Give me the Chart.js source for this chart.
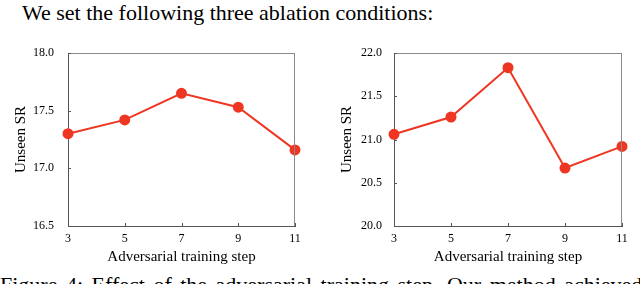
<!DOCTYPE html>
<html>
<head>
<meta charset="utf-8">
<script src="https://cdn.jsdelivr.net/npm/chart.js@4/dist/chart.umd.min.js"></script>
<style>
  html, body { margin: 0; padding: 0; background: #fff; }
  body { width: 640px; height: 284px; position: relative; overflow: hidden; font-family: "Liberation Serif", "DejaVu Serif", serif; color: #000; }
  .txt { position: absolute; white-space: nowrap; font-size: 22px; line-height: 22px; }
  canvas { position: absolute; }
</style>
</head>
<body>
<div class="txt" style="left:22px; top:2px;">We set the following three ablation conditions:</div>
<canvas id="c1" width="320" height="240" style="left:0px; top:30px;"></canvas>
<canvas id="c2" width="320" height="240" style="left:320px; top:30px;"></canvas>
<div class="txt" style="left:0px; top:274px; word-spacing:3px;">Figure 4: Effect of the adversarial training step. Our method achieved</div>
<script>
const steps = ['3', '5', '7', '9', '11'];
const leftValues = [17.30, 17.42, 17.65, 17.53, 17.16];
const rightValues = [21.06, 21.26, 21.83, 20.67, 20.92];
const leftTicks = [16.5, 17.0, 17.5, 18.0];
const rightTicks = [20.0, 20.5, 21.0, 21.5, 22.0];
const xTitle = 'Adversarial training step';
const yTitle = 'Unseen SR';

const RED = '#EE3623';
const serif = '"Liberation Serif", "Times New Roman", serif';

const framePlugin = {
  id: 'frame',
  afterDraw(chart) {
    const {ctx, chartArea: a, scales} = chart;
    ctx.save();
    ctx.strokeStyle = '#8a8a8a';
    ctx.lineWidth = 1;
    ctx.beginPath();
    ctx.moveTo(a.left, a.top + 0.5); ctx.lineTo(a.right, a.top + 0.5);
    ctx.moveTo(a.right - 0.5, a.top); ctx.lineTo(a.right - 0.5, a.bottom);
    ctx.stroke();
    ctx.strokeStyle = '#555';
    ctx.beginPath();
    scales.x.ticks.forEach((t, i) => {
      const px = Math.round(scales.x.getPixelForTick(i)) + 0.5;
      ctx.moveTo(px, a.bottom); ctx.lineTo(px, a.bottom - 3);
    });
    scales.y.ticks.forEach((t, i) => {
      const py = Math.round(scales.y.getPixelForTick(i)) + 0.5;
      ctx.moveTo(a.left, py); ctx.lineTo(a.left + 3, py);
    });
    ctx.stroke();
    ctx.restore();
  }
};

function makeChart(id, values, ticks, yWidth, rightPad, titlePad, tickPad) {
  const min = ticks[0], max = ticks[ticks.length - 1];
  return new Chart(document.getElementById(id), {
    type: 'line',
    data: {
      labels: steps,
      datasets: [{
        data: values,
        borderColor: RED,
        backgroundColor: RED,
        pointBackgroundColor: RED,
        pointBorderColor: RED,
        pointRadius: 4.5,
        borderWidth: 2,
        tension: 0,
        clip: false
      }]
    },
    options: {
      responsive: false,
      animation: false,
      devicePixelRatio: 1,
      layout: { padding: { top: 23, right: rightPad, left: 0, bottom: 0 } },
      plugins: { legend: { display: false }, tooltip: { enabled: false } },
      scales: {
        x: {
          type: 'category',
          offset: false,
          grid: { display: false, drawTicks: false },
          border: { display: true, color: '#555', width: 1 },
          ticks: { color: '#000', font: { family: serif, size: 12 }, padding: 6, maxRotation: 0, autoSkip: false },
          title: { display: true, text: xTitle, color: '#000', font: { family: serif, size: 15 }, padding: { top: 0, bottom: 4 } },
          afterFit(s) { s.height = 44; }
        },
        y: {
          min: min, max: max,
          afterBuildTicks(s) { s.ticks = ticks.map(v => ({ value: v })); },
          grid: { display: false, drawTicks: false },
          border: { display: true, color: '#555', width: 1 },
          ticks: { color: '#000', font: { family: serif, size: 12 }, padding: tickPad, callback: v => Number(v).toFixed(1) },
          title: { display: true, text: yTitle, color: '#000', font: { family: serif, size: 15 }, padding: { top: titlePad, bottom: 0 } },
          afterFit(s) { s.width = yWidth; }
        }
      }
    },
    plugins: [framePlugin]
  });
}

makeChart('c1', leftValues, leftTicks, 68, 25, 12, 14);
makeChart('c2', rightValues, rightTicks, 74, 18, 18, 12);
</script>
</body>
</html>
